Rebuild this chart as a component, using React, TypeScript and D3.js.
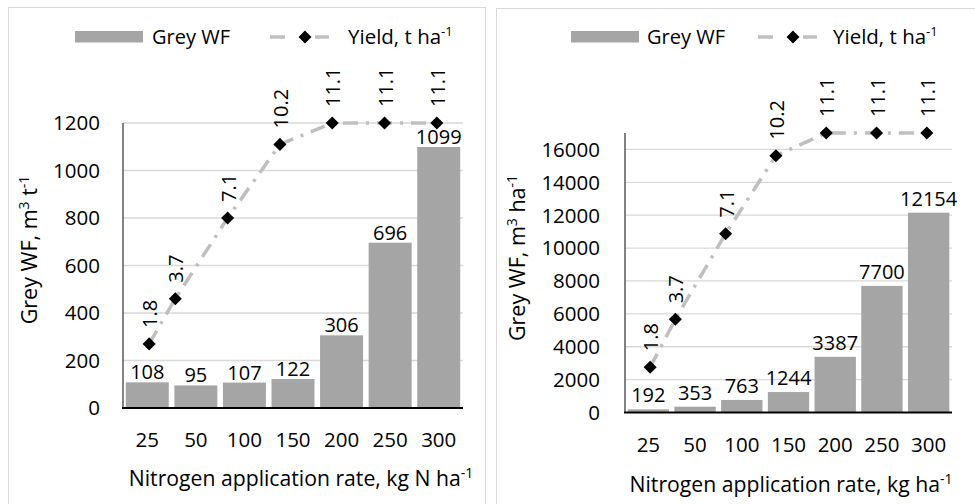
import * as d3 from "d3";

const RATE_LABELS = ["25", "50", "100", "150", "200", "250", "300"];
const RATES = [25, 50, 100, 150, 200, 250, 300];
const YIELD = [1.8, 3.7, 7.1, 10.2, 11.1, 11.1, 11.1];
const GREY_WF_PER_T = [108, 95, 107, 122, 306, 696, 1099];
const GREY_WF_PER_HA = [192, 353, 763, 1244, 3387, 7700, 12154];
const TICKS_PER_T = [0, 200, 400, 600, 800, 1000, 1200];
const TICKS_PER_HA = [0, 2000, 4000, 6000, 8000, 10000, 12000, 14000, 16000];

const FONT = "'Open Sans', 'Liberation Sans', sans-serif";
const BAR = "#a5a5a5";
const LINE = "#bfbfbf";
const GRID = "#d9d9d9";

interface PanelCfg {
  frame: { x: number; y: number; w: number; h: number };
  plot: { left: number; right: number; top: number; bottom: number };
  yMax: number;
  y2Domain: [number, number];
  ticks: number[];
  bars: number[];
  labelGap: number;
  legend: { rectX: number; textX: number; lineX1: number; lineX2: number; diamondX: number; yieldX: number };
  yTitle: { x: number; y: number; unit: string };
  xTitle: { x: number; y: number; text: string };
  tickRight: number;
}

const LEFT: PanelCfg = {
  frame: { x: 8.5, y: 7.5, w: 477, h: 497 },
  plot: { left: 123, right: 463, top: 123, bottom: 408 },
  yMax: 1200,
  y2Domain: [-0.9, 11.1],
  ticks: TICKS_PER_T,
  bars: GREY_WF_PER_T,
  labelGap: 3,
  legend: { rectX: 75, textX: 152, lineX1: 270, lineX2: 329, diamondX: 305, yieldX: 348 },
  yTitle: { x: 37, y: 250, unit: " t" },
  xTitle: { x: 301, y: 485.5, text: "Nitrogen application rate, kg N ha" },
  tickRight: 100,
};

const RIGHT: PanelCfg = {
  frame: { x: 496.5, y: 8.5, w: 482, h: 497 },
  plot: { left: 625, right: 952, top: 133, bottom: 412.5 },
  yMax: 17000,
  y2Domain: [0, 11.1],
  ticks: TICKS_PER_HA,
  bars: GREY_WF_PER_HA,
  labelGap: 7,
  legend: { rectX: 571, textX: 647, lineX1: 758, lineX2: 817, diamondX: 793, yieldX: 833 },
  yTitle: { x: 525, y: 258, unit: " ha" },
  xTitle: { x: 791, y: 492, text: "Nitrogen application rate, kg ha" },
  tickRight: 600,
};

const diamond = d3.symbol().type(d3.symbolSquare).size(85)() as string;

function Panel({ cfg }: { cfg: PanelCfg }) {
  const { plot, legend } = cfg;
  const x = d3.scaleBand<string>().domain(RATE_LABELS).range([plot.left, plot.right]).paddingInner(0.115).paddingOuter(0.0575);
  const y = d3.scaleLinear().domain([0, cfg.yMax]).range([plot.bottom, plot.top]);
  // yield is drawn on hidden secondary axes (numeric x, own y range)
  const x2 = d3.scaleLinear().domain([0, 325]).range([plot.left, plot.right]);
  const y2 = d3.scaleLinear().domain(cfg.y2Domain).range([plot.bottom, plot.top]);
  const pts: [number, number][] = RATES.map((r, i) => [x2(r), y2(YIELD[i])]);
  const path = d3.line()(pts) ?? "";
  const legendY = 37;

  return (
    <g fontFamily={FONT} fill="#000">
      <rect x={cfg.frame.x} y={cfg.frame.y} width={cfg.frame.w} height={cfg.frame.h} fill="#fff" stroke={GRID} strokeWidth={1} />

      {/* legend */}
      <rect x={legend.rectX} y={31} width={68} height={11.5} fill={BAR} />
      <text x={legend.textX} y={43.5} fontSize={20}>Grey WF</text>
      <line x1={legend.lineX1} x2={legend.lineX1 + 15} y1={legendY} y2={legendY} stroke={LINE} strokeWidth={3.5} />
      <line x1={legend.lineX2 - 14} x2={legend.lineX2} y1={legendY} y2={legendY} stroke={LINE} strokeWidth={3.5} />
      <path d={diamond} transform={`translate(${legend.diamondX},${legendY}) rotate(45)`} fill="#000" />
      <text x={legend.yieldX} y={43.5} fontSize={20.5}>
        Yield, t ha<tspan fontSize={13} dy={-8}>-1</tspan>
      </text>

      {/* grid + y ticks */}
      {cfg.ticks.map((t) => (
        <g key={t}>
          {t > 0 && <line x1={plot.left} x2={plot.right} y1={y(t)} y2={y(t)} stroke={GRID} strokeWidth={1.3} />}
          <text x={cfg.tickRight} y={y(t)} dy="0.36em" textAnchor="end" fontSize={20.5}>{t}</text>
        </g>
      ))}

      {/* bars */}
      {cfg.bars.map((v, i) => (
        <g key={i}>
          <rect x={x(RATE_LABELS[i])} y={y(v)} width={x.bandwidth()} height={plot.bottom - y(v)} fill={BAR} />
          <text x={(x(RATE_LABELS[i]) ?? 0) + x.bandwidth() / 2} y={y(v) - cfg.labelGap} textAnchor="middle" fontSize={20}>{v}</text>
        </g>
      ))}

      {/* axes */}
      <line x1={plot.left} x2={plot.left} y1={plot.top} y2={plot.bottom} stroke="#404040" strokeWidth={1.3} />
      <line x1={plot.left - 1} x2={plot.right} y1={plot.bottom} y2={plot.bottom} stroke="#000" strokeWidth={2} />
      {RATE_LABELS.map((c) => (
        <text key={c} x={(x(c) ?? 0) + x.bandwidth() / 2} y={plot.bottom + 39} textAnchor="middle" fontSize={20.5}>{c}</text>
      ))}

      {/* yield line */}
      <path d={path} fill="none" stroke={LINE} strokeWidth={3.5} strokeDasharray="15 8 3 8" />
      {pts.map(([px, py], i) => (
        <g key={i}>
          <path d={diamond} transform={`translate(${px},${py}) rotate(45)`} fill="#000" />
          <text transform={`translate(${px + 8},${py - 16}) rotate(-90)`} fontSize={20}>{YIELD[i].toFixed(1)}</text>
        </g>
      ))}

      {/* titles */}
      <text transform={`translate(${cfg.yTitle.x},${cfg.yTitle.y}) rotate(-90)`} textAnchor="middle" fontSize={21.5}>
        Grey WF, m<tspan fontSize={14} dy={-8}>3</tspan>
        <tspan dy={8}>{cfg.yTitle.unit}</tspan>
        <tspan fontSize={14} dy={-8}>-1</tspan>
      </text>
      <text x={cfg.xTitle.x} y={cfg.xTitle.y} textAnchor="middle" fontSize={21.2}>
        {cfg.xTitle.text}<tspan fontSize={14} dy={-8}>-1</tspan>
      </text>
    </g>
  );
}

export default function App() {
  return (
    <svg width={975} height={504} style={{ position: "absolute", left: 0, top: 0, background: "#fff" }}>
      <Panel cfg={LEFT} />
      <Panel cfg={RIGHT} />
    </svg>
  );
}
